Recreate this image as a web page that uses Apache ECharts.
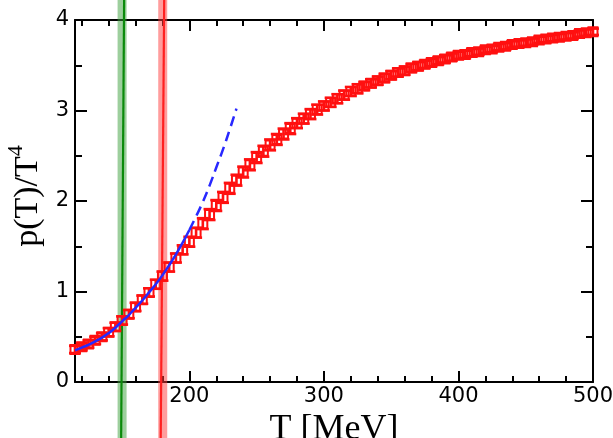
<!DOCTYPE html>
<html><head><meta charset="utf-8">
<script src="https://cdn.jsdelivr.net/npm/echarts@6/dist/echarts.min.js"></script>
<style>html,body{margin:0;padding:0;background:#fff}#c{width:613px;height:438px}</style>
</head><body><div id="c"></div>
<script>
const temps = [115,120,125,130,135,140,145,150,155,160,165,170,175,180,185,190,195,200,205,210,215,220,225,230,235,240,245,250,255,260,265,270,275,280,285,290,295,300,305,310,315,320,325,330,335,340,345,350,355,360,365,370,375,380,385,390,395,400,405,410,415,420,425,430,435,440,445,450,455,460,465,470,475,480,485,490,495,500];
const pressure = [0.36,0.39,0.42,0.46,0.50,0.55,0.61,0.68,0.75,0.83,0.91,0.99,1.08,1.17,1.27,1.37,1.46,1.55,1.65,1.75,1.85,1.95,2.04,2.14,2.23,2.32,2.40,2.48,2.55,2.62,2.68,2.74,2.80,2.86,2.91,2.96,3.01,3.05,3.09,3.13,3.17,3.21,3.24,3.27,3.30,3.33,3.36,3.39,3.42,3.44,3.47,3.49,3.51,3.53,3.55,3.57,3.59,3.61,3.62,3.64,3.65,3.67,3.68,3.70,3.71,3.73,3.74,3.75,3.76,3.78,3.79,3.80,3.81,3.82,3.83,3.85,3.86,3.87];
const errors = [0.04,0.04,0.04,0.04,0.04,0.045,0.045,0.045,0.045,0.045,0.045,0.045,0.05,0.05,0.05,0.05,0.05,0.055,0.055,0.06,0.06,0.06,0.06,0.06,0.06,0.06,0.06,0.06,0.06,0.06,0.06,0.06,0.06,0.055,0.055,0.055,0.055,0.05,0.05,0.05,0.05,0.05,0.05,0.045,0.045,0.045,0.045,0.045,0.045,0.045,0.045,0.045,0.04,0.04,0.04,0.04,0.04,0.04,0.04,0.04,0.035,0.035,0.035,0.035,0.035,0.035,0.035,0.035,0.035,0.035,0.035,0.035,0.035,0.035,0.035,0.035,0.035,0.035];
const hrgT = [115,120,125,130,135,140,145,150,155,160,165,170,175,180,185,190,195,200];
const hrgP = [0.35,0.38,0.41,0.45,0.49,0.54,0.60,0.67,0.74,0.82,0.90,0.99,1.08,1.18,1.29,1.41,1.54,1.68];
const hrgDashT = [200,205,210,215,220,225,230,235];
const hrgDashP = [1.68,1.83,1.99,2.17,2.37,2.57,2.79,3.02];
const majorXTicks = [200,300,400,500];
const minorXTicks = [120,140,160,180,220,240,260,280,320,340,360,380,420,440,460,480];
const majorYTicks = [0,1,2,3,4];
const minorYTicks = [0.5,1.5,2.5,3.5];
const bandT = [150, 180.2];
const lineTopT = [151.5, 181.3];
const lineBottomT = [149.3, 178.7];
const bandColors = ['rgba(60,160,60,0.5)', 'rgba(255,60,60,0.5)'];
const lineColors = ['#0a8a0a', '#ff2020'];

const XMIN = 115, XMAX = 500, YMIN = 0, YMAX = 4;
const tickFont = {fontFamily: 'DejaVu Sans', fontSize: 21, color: '#000'};
function xAx(pos, ticks, len, showLine, labels, extra) {
  return Object.assign({
    type: 'value', position: pos, min: XMIN, max: XMAX,
    axisLine: {show: showLine, onZero: false, lineStyle: {color: '#000', width: 2}},
    axisTick: {show: true, inside: true, length: len, customValues: ticks, lineStyle: {color: '#000', width: 2}},
    axisLabel: labels ? Object.assign({customValues: ticks, margin: 4}, tickFont) : {show: false},
    splitLine: {show: false}
  }, extra || {});
}
function yAx(pos, ticks, len, showLine, labels, extra) {
  return Object.assign({
    type: 'value', position: pos, min: YMIN, max: YMAX,
    axisLine: {show: showLine, onZero: false, lineStyle: {color: '#000', width: 2}},
    axisTick: {show: true, inside: true, length: len, customValues: ticks, lineStyle: {color: '#000', width: 2}},
    axisLabel: labels ? Object.assign({customValues: ticks, margin: 6}, tickFont) : {show: false},
    splitLine: {show: false}
  }, extra || {});
}

const chart = echarts.init(document.getElementById('c'), null, {renderer: 'canvas'});
chart.setOption({
  backgroundColor: '#fff',
  animation: false,
  grid: {left: 75, right: 20, top: 20, bottom: 56, containLabel: false, outerBoundsMode: 'none'},
  xAxis: [
    xAx('bottom', majorXTicks, 11, true, true, {
      name: 'T [MeV]', nameLocation: 'middle', nameGap: 20,
      nameTextStyle: {fontFamily: 'Liberation Serif', fontSize: 36, color: '#000'}
    }),
    xAx('bottom', minorXTicks, 6, false, false),
    xAx('top', majorXTicks, 11, true, false),
    xAx('top', minorXTicks, 6, false, false)
  ],
  yAxis: [
    yAx('left', majorYTicks, 12, true, true, {
      name: '{b|p(T)/T}{s|4}', nameLocation: 'middle', nameGap: 20, nameRotate: 90,
      nameTextStyle: {
        fontFamily: 'Liberation Serif', fontSize: 34, color: '#000', padding: [0, 0, 0, 10],
        rich: {
          b: {fontFamily: 'Liberation Serif', fontSize: 34, color: '#000', lineHeight: 40, verticalAlign: 'bottom'},
          s: {fontFamily: 'Liberation Serif', fontSize: 22, color: '#000', lineHeight: 40, verticalAlign: 'top'}
        }
      }
    }),
    yAx('left', minorYTicks, 7, false, false),
    yAx('right', majorYTicks, 12, true, false),
    yAx('right', minorYTicks, 7, false, false)
  ],
  series: [
    {
      type: 'custom', xAxisIndex: 0, yAxisIndex: 0, clip: false, z: 1,
      data: bandT.map((t, i) => [t, lineTopT[i], lineBottomT[i], i]),
      encode: {x: 0},
      renderItem: function (params, api) {
        const i = api.value(3);
        const xb = api.coord([api.value(0), 0])[0];
        const xt = api.coord([api.value(1), 0])[0];
        const xd = api.coord([api.value(2), 0])[0];
        const H = api.getHeight();
        return {type: 'group', children: [
          {type: 'rect', shape: {x: xb - 4.5, y: 0, width: 9, height: H}, style: {fill: bandColors[i]}},
          {type: 'line', shape: {x1: xt, y1: 0, x2: xd, y2: H}, style: {stroke: lineColors[i], lineWidth: 2.2}}
        ]};
      }
    },
    {
      type: 'custom', xAxisIndex: 0, yAxisIndex: 0, z: 3,
      data: temps.map((t, i) => [t, pressure[i], errors[i]]),
      encode: {x: 0, y: 1},
      renderItem: function (params, api) {
        const x = api.value(0), y = api.value(1), e = api.value(2);
        const c = api.coord([x, y]);
        const hi = api.coord([x, y + e]);
        const lo = api.coord([x, y - e]);
        const hw = 6, s = 4.5;
        const st = {stroke: '#ff1010', lineWidth: 2.6, fill: null};
        return {type: 'group', children: [
          {type: 'line', shape: {x1: c[0], y1: hi[1], x2: c[0], y2: lo[1]}, style: st},
          {type: 'line', shape: {x1: c[0] - hw, y1: hi[1], x2: c[0] + hw, y2: hi[1]}, style: st},
          {type: 'line', shape: {x1: c[0] - hw, y1: lo[1], x2: c[0] + hw, y2: lo[1]}, style: st},
          {type: 'rect', shape: {x: c[0] - s, y: c[1] - s, width: 2 * s, height: 2 * s}, style: {stroke: '#ff1010', lineWidth: 2, fill: 'rgba(255,255,255,0)'}}
        ]};
      }
    },
    {
      type: 'line', xAxisIndex: 0, yAxisIndex: 0, z: 4, smooth: true, showSymbol: false,
      data: hrgT.map((t, i) => [t, hrgP[i]]),
      lineStyle: {color: '#2828ff', width: 2.5}
    },
    {
      type: 'line', xAxisIndex: 0, yAxisIndex: 0, z: 4, smooth: true, showSymbol: false,
      data: hrgDashT.map((t, i) => [t, hrgDashP[i]]),
      lineStyle: {color: '#2828ff', width: 2.5, type: [10, 6]}
    }
  ]
});
</script>
</body></html>
